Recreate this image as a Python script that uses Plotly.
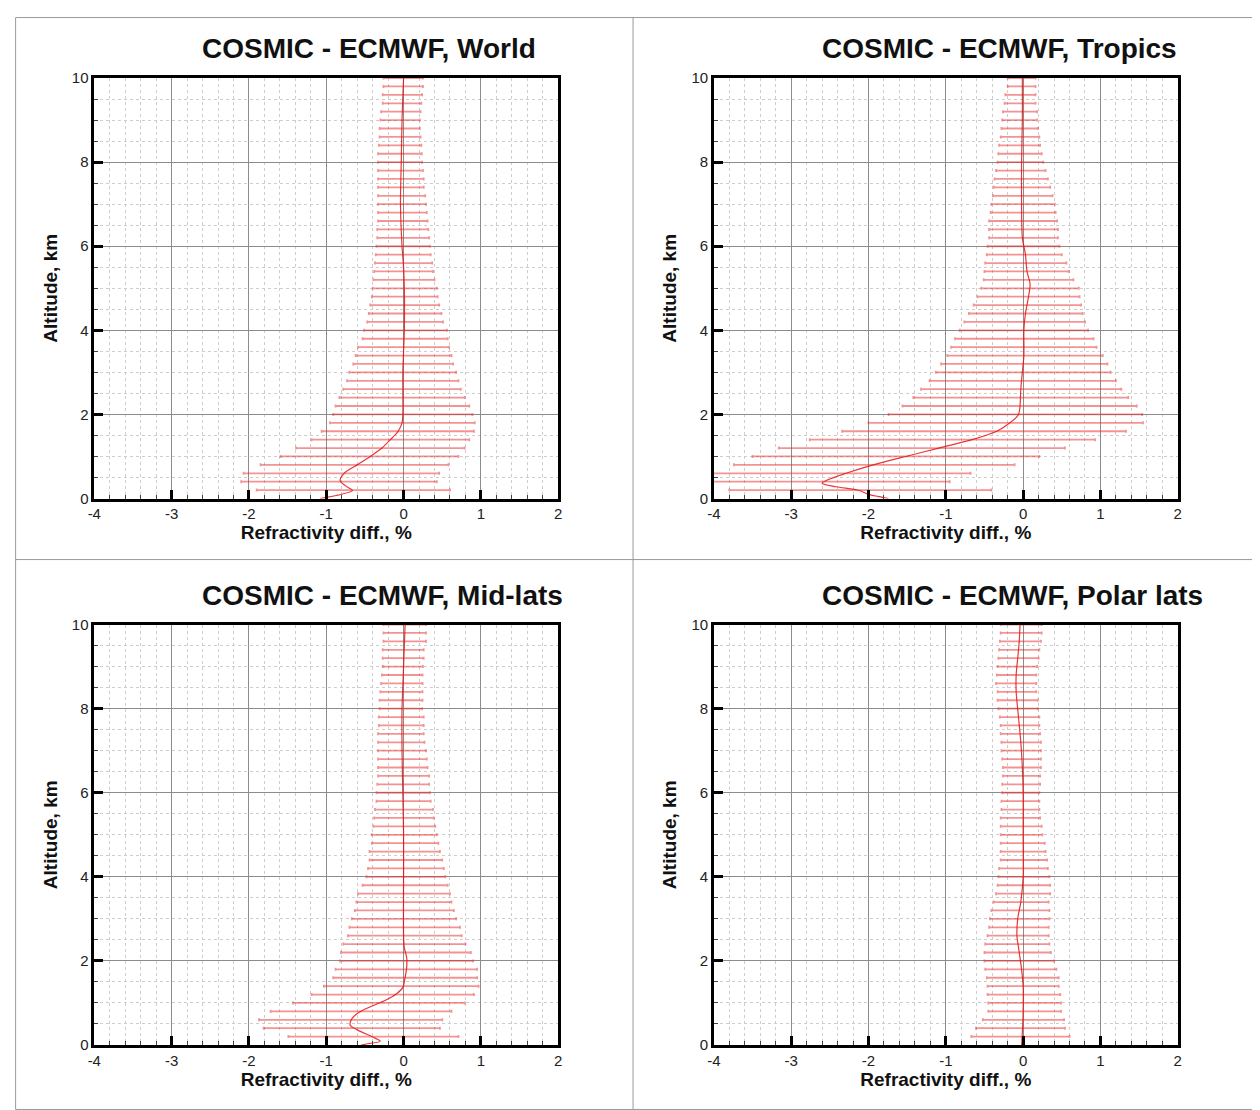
import plotly.graph_objects as go

# ---------------- data ----------------
levels = [round(0.2 * i, 1) for i in range(1, 51)]  # 0.2 ... 10.0 km

world_lo = [-1.90, -2.10, -2.07, -1.85, -1.59, -1.39, -1.19, -1.06, -0.95, -0.91,
            -0.88, -0.83, -0.78, -0.73, -0.70, -0.65, -0.62, -0.59, -0.53, -0.51,
            -0.47, -0.45, -0.43, -0.41, -0.40, -0.39, -0.38, -0.37, -0.36, -0.35,
            -0.34, -0.34, -0.33, -0.33, -0.33, -0.33, -0.33, -0.33, -0.33, -0.33,
            -0.33, -0.32, -0.31, -0.31, -0.30, -0.29, -0.27, -0.27, -0.26, -0.26]
world_hi = [0.60, 0.43, 0.46, 0.58, 0.71, 0.79, 0.85, 0.91, 0.92, 0.89,
            0.85, 0.79, 0.74, 0.71, 0.68, 0.64, 0.62, 0.59, 0.57, 0.56,
            0.51, 0.49, 0.46, 0.44, 0.43, 0.40, 0.38, 0.37, 0.35, 0.34,
            0.33, 0.32, 0.31, 0.30, 0.29, 0.28, 0.26, 0.26, 0.25, 0.24,
            0.235, 0.23, 0.22, 0.21, 0.21, 0.22, 0.23, 0.24, 0.25, 0.25]
world_line_alt = [0.0, 0.08, 0.19, 0.3, 0.42, 0.6, 0.8, 1.0, 1.2, 1.4, 1.6, 1.8, 2.0,
                  3.0, 3.5, 4.0, 5.0, 5.5, 6.0, 7.0, 8.0, 9.0, 10.0]
world_line_val = [-1.08, -0.85, -0.66, -0.75, -0.82, -0.77, -0.60, -0.43, -0.28, -0.17,
                  -0.07, -0.02, -0.01, -0.01, 0.0, 0.01, 0.01, 0.0, -0.02, -0.04,
                  -0.03, -0.02, 0.0]

trop_lo = [-3.80, -4.30, -4.10, -3.74, -3.50, -3.16, -2.76, -2.34, -2.00, -1.74,
           -1.56, -1.42, -1.32, -1.21, -1.13, -1.06, -0.98, -0.93, -0.88, -0.82,
           -0.76, -0.70, -0.64, -0.59, -0.54, -0.51, -0.50, -0.49, -0.47, -0.46,
           -0.44, -0.44, -0.44, -0.42, -0.41, -0.39, -0.38, -0.37, -0.35, -0.33,
           -0.32, -0.31, -0.29, -0.28, -0.27, -0.26, -0.24, -0.23, -0.20, -0.20]
trop_hi = [-0.41, -0.95, -0.68, -0.11, 0.21, 0.54, 0.93, 1.33, 1.55, 1.54,
           1.47, 1.36, 1.27, 1.20, 1.13, 1.09, 1.03, 0.95, 0.91, 0.84,
           0.80, 0.77, 0.75, 0.73, 0.72, 0.65, 0.59, 0.56, 0.50, 0.47,
           0.45, 0.45, 0.44, 0.42, 0.41, 0.38, 0.35, 0.32, 0.29, 0.26,
           0.24, 0.22, 0.21, 0.19, 0.18, 0.18, 0.16, 0.16, 0.16, 0.16]
trop_line_alt = [0.0, 0.05, 0.1, 0.19, 0.28, 0.36, 0.45, 0.6, 0.8, 1.0, 1.2, 1.4, 1.6,
                 1.8, 2.0, 2.2, 2.6, 3.0, 3.4, 4.0, 4.4, 4.8, 5.1, 5.4, 5.8, 6.2,
                 7.0, 8.0, 9.0, 10.0]
trop_line_val = [-1.74, -1.88, -2.00, -2.12, -2.42, -2.60, -2.52, -2.29, -1.94, -1.52,
                 -1.09, -0.66, -0.34, -0.17, -0.06, -0.04, -0.03, -0.01, 0.01, 0.01,
                 0.03, 0.07, 0.09, 0.05, 0.03, -0.01, -0.02, -0.02, -0.01, -0.01]

mid_lo = [-1.49, -1.81, -1.87, -1.72, -1.43, -1.19, -1.03, -0.91, -0.88, -0.82,
          -0.81, -0.78, -0.72, -0.70, -0.67, -0.63, -0.61, -0.59, -0.53, -0.48,
          -0.46, -0.44, -0.44, -0.41, -0.41, -0.39, -0.38, -0.37, -0.35, -0.35,
          -0.34, -0.33, -0.33, -0.33, -0.33, -0.33, -0.33, -0.32, -0.32, -0.31,
          -0.31, -0.30, -0.29, -0.28, -0.27, -0.27, -0.27, -0.26, -0.26, -0.26]
mid_hi = [0.71, 0.47, 0.50, 0.62, 0.79, 0.91, 0.97, 0.95, 0.95, 0.90,
          0.87, 0.80, 0.75, 0.73, 0.68, 0.65, 0.62, 0.60, 0.57, 0.54,
          0.52, 0.50, 0.47, 0.45, 0.43, 0.41, 0.39, 0.38, 0.35, 0.34,
          0.33, 0.33, 0.31, 0.30, 0.29, 0.27, 0.26, 0.26, 0.26, 0.24,
          0.245, 0.245, 0.245, 0.245, 0.25, 0.26, 0.26, 0.29, 0.29, 0.29]
mid_line_alt = [0.0, 0.03, 0.09, 0.19, 0.36, 0.47, 0.59, 0.75, 0.91, 1.06, 1.22, 1.37,
                1.61, 1.84, 2.08, 2.31, 2.6, 4.0, 5.0, 6.0, 7.0, 8.0, 9.0, 10.0]
mid_line_val = [-0.55, -0.46, -0.30, -0.40, -0.60, -0.69, -0.68, -0.60, -0.43, -0.24,
                -0.09, -0.01, 0.02, 0.04, 0.04, 0.01, 0.0, 0.0, 0.0, -0.01, -0.02,
                -0.02, 0.0, 0.02]

polar_lo = [-0.67, -0.61, -0.52, -0.45, -0.45, -0.46, -0.46, -0.47, -0.49, -0.50,
            -0.50, -0.49, -0.46, -0.44, -0.43, -0.41, -0.38, -0.35, -0.33, -0.32,
            -0.31, -0.29, -0.29, -0.29, -0.29, -0.29, -0.29, -0.28, -0.28, -0.27,
            -0.27, -0.26, -0.26, -0.27, -0.28, -0.28, -0.29, -0.29, -0.30, -0.32,
            -0.33, -0.33, -0.35, -0.34, -0.33, -0.32, -0.31, -0.30, -0.29, -0.29]
polar_hi = [0.60, 0.54, 0.53, 0.49, 0.49, 0.48, 0.46, 0.46, 0.43, 0.40,
            0.36, 0.34, 0.33, 0.33, 0.34, 0.34, 0.33, 0.35, 0.35, 0.34,
            0.32, 0.31, 0.29, 0.28, 0.25, 0.24, 0.22, 0.21, 0.21, 0.21,
            0.22, 0.22, 0.23, 0.23, 0.23, 0.23, 0.22, 0.21, 0.21, 0.19,
            0.19, 0.17, 0.17, 0.17, 0.18, 0.20, 0.21, 0.23, 0.24, 0.24]
polar_line_alt = [0.0, 0.3, 0.8, 1.4, 1.8, 2.2, 2.6, 3.0, 3.4, 4.0, 5.0, 6.0, 6.6,
                  7.2, 7.8, 8.4, 8.8, 9.2, 9.6, 10.0]
polar_line_val = [-0.02, -0.01, 0.0, 0.0, -0.02, -0.05, -0.08, -0.07, -0.03, 0.0,
                  0.0, 0.0, -0.01, -0.03, -0.06, -0.09, -0.09, -0.07, -0.05, -0.04]

panel_titles = ["COSMIC - ECMWF, World", "COSMIC - ECMWF, Tropics",
                "COSMIC - ECMWF, Mid-lats", "COSMIC - ECMWF, Polar lats"]
x_tickvals = [-4, -3, -2, -1, 0, 1, 2]
x_ticktext = ["-4", "-3", "-2", "-1", "0", "1", "2"]
y_tickvals = [0, 2, 4, 6, 8, 10]
y_ticktext = ["0", "2", "4", "6", "8", "10"]
x_title = "Refractivity diff., %"
y_title = "Altitude, km"

panels = [
    (world_lo, world_hi, world_line_alt, world_line_val),
    (trop_lo, trop_hi, trop_line_alt, trop_line_val),
    (mid_lo, mid_hi, mid_line_alt, mid_line_val),
    (polar_lo, polar_hi, polar_line_alt, polar_line_val),
]

# ---------------- layout geometry (target page pixels) ----------------
W, H = 1260, 1110
OFF = 8                      # page body margin of the viewer


def fx(p):
    return (p - OFF) / W


def fy(p):
    return 1 - (p - OFF) / H


col_x = [(88, 556), (713, 1181)]
row_y = [(70, 497), (625, 1052)]
title_x = [195, 820]
title_y = [40, 595]

FONT = "Liberation Sans, Arial, sans-serif"

fig = go.Figure()
layout = dict(
    width=W, height=H, margin=dict(l=0, r=0, t=0, b=0),
    paper_bgcolor="white", plot_bgcolor="white", showlegend=False,
    font=dict(family=FONT, color="#111"),
)
annotations = []
shapes = []

for i, (lo, hi, lalt, lval) in enumerate(panels):
    r, c = divmod(i, 2)
    xs = "" if i == 0 else str(i + 1)
    xd = [fx(col_x[c][0]), fx(col_x[c][1])]
    yd = [fy(row_y[r][1]), fy(row_y[r][0])]
    centers = [(a + b) / 2 for a, b in zip(lo, hi)]
    half = [(b - a) / 2 for a, b in zip(lo, hi)]

    fig.add_trace(go.Scatter(
        x=centers, y=levels, mode="markers",
        marker=dict(size=2, color="rgba(0,0,0,0)"),
        error_x=dict(type="data", array=half, symmetric=True,
                     color="rgba(232,40,40,0.5)", thickness=1.8, width=1.5),
        xaxis="x" + xs, yaxis="y" + xs, hoverinfo="skip",
    ))
    fig.add_trace(go.Scatter(
        x=lval, y=lalt, mode="lines",
        line=dict(color="rgba(228,20,20,0.85)", width=1.2, shape="spline", smoothing=0.8),
        xaxis="x" + xs, yaxis="y" + xs, hoverinfo="skip",
    ))

    common = dict(
        showgrid=True, gridcolor="#8c8c8c", gridwidth=1,
        ticks="inside", ticklen=9, tickwidth=2.5, tickcolor="black",
        showline=True, linewidth=2.5, linecolor="black", mirror=True,
        zeroline=False, tickfont=dict(family=FONT, size=15, color="#222"),
        tickmode="array",
    )
    layout["xaxis" + xs] = dict(
        common, domain=xd, anchor="y" + xs, range=[-4, 2],
        tickvals=x_tickvals, ticktext=x_ticktext,
        minor=dict(tick0=0, dtick=0.2, showgrid=True, gridcolor="#cdcdcd",
                   griddash="dot", gridwidth=1, ticks="inside", ticklen=4,
                   tickwidth=1, tickcolor="#444"),
        title=dict(text="<b>" + x_title + "</b>", standoff=1,
                   font=dict(family=FONT, size=19, color="#111")),
    )
    layout["yaxis" + xs] = dict(
        common, domain=yd, anchor="x" + xs, range=[0, 10],
        tickvals=y_tickvals, ticktext=y_ticktext,
        minor=dict(tick0=0, dtick=0.5, showgrid=True, gridcolor="#cdcdcd",
                   griddash="dot", gridwidth=1, ticks="inside", ticklen=4,
                   tickwidth=1, tickcolor="#444"),
        title=dict(text="<b>" + y_title + "</b>", standoff=10,
                   font=dict(family=FONT, size=19, color="#111")),
    )
    annotations.append(dict(
        text="<b>" + panel_titles[i] + "</b>", xref="paper", yref="paper",
        x=fx(title_x[c]), y=fy(title_y[r]), xanchor="left", yanchor="middle",
        showarrow=False, font=dict(family=FONT, size=28, color="#111"),
    ))

# panel frame / dividers
shapes.append(dict(type="rect", xref="paper", yref="paper",
                   x0=0.0005, x1=fx(1257), y0=0.0005, y1=0.9995,
                   line=dict(color="#9a9a9a", width=1)))
shapes.append(dict(type="line", xref="paper", yref="paper",
                   x0=fx(631.5), x1=fx(631.5), y0=0, y1=1,
                   line=dict(color="#9a9a9a", width=1)))
shapes.append(dict(type="line", xref="paper", yref="paper",
                   x0=0, x1=fx(1257), y0=fy(559), y1=fy(559),
                   line=dict(color="#9a9a9a", width=1)))

layout["annotations"] = annotations
layout["shapes"] = shapes
fig.update_layout(layout)

fig.write_html("out.html", config={"displayModeBar": False})
